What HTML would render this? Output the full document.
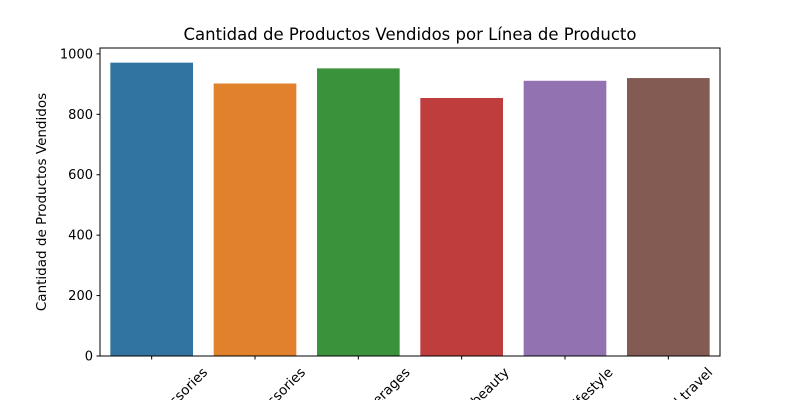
<!DOCTYPE html>
<html><head><meta charset="utf-8"><style>
html,body{margin:0;background:#fff;width:800px;height:400px;overflow:hidden}
svg{display:block;font-family:"DejaVu Sans","Liberation Sans",sans-serif;overflow:hidden}
</style></head><body>
<svg id="c" width="800" height="400" viewBox="0 0 800 400">
<rect width="800" height="400" fill="#fff"/>
<text x="410" y="40" text-anchor="middle" font-size="16.5" fill="#000">Cantidad de Productos Vendidos por Línea de Producto</text>
<g id="bars"></g><g id="yaxis"></g><g id="xaxis"></g>
<rect x="100" y="48" width="620" height="308" fill="none" stroke="#000" stroke-width="1"/>
<text transform="translate(46,202) rotate(-90)" text-anchor="middle" font-size="13.5">Cantidad de Productos Vendidos</text>
</svg>
<script>
const categories=["Electronic accessories","Fashion accessories","Food and beverages","Health and beauty","Home and lifestyle","Sports and travel"];
const values=[971,902,952,854,911,920];
const colors=["#3274a1","#e1812c","#3a923a","#c03d3e","#9372b2","#845b53"];
const yTicks=[0,200,400,600,800,1000];
const NS="http://www.w3.org/2000/svg";
const L=100,R=720,T=48,B=356,YMAX=1019.5;
const y=v=>B-(v/YMAX)*(B-T);
const slot=(R-L)/categories.length;
const xc=i=>L+slot*(i+0.5);
const bars=document.getElementById('bars'),ya=document.getElementById('yaxis'),xa=document.getElementById('xaxis');
function mk(t,a){const e=document.createElementNS(NS,t);for(const k in a)e.setAttribute(k,a[k]);return e;}
values.forEach((v,i)=>{
 const r=mk('rect',{x:xc(i)-slot*0.4,y:y(v),width:slot*0.8,height:B-y(v),fill:colors[i]});
 
 
 bars.appendChild(r);
});
yTicks.forEach(t=>{
 const l=mk('line',{x1:L-3.5,x2:L,y1:y(t),y2:y(t),stroke:'#000'});
 
 
 ya.appendChild(l);
 const tx=mk('text',{x:L-7,y:y(t)+4.5,'text-anchor':'end','font-size':'13'});
 tx.textContent=t;
 
 
 ya.appendChild(tx);
});
categories.forEach((c,i)=>{
 const x=xc(i);
 const l=mk('line',{x1:x,x2:x,y1:B,y2:B+3.5,stroke:'#000'});
 
 
 xa.appendChild(l);
 const tx=mk('text',{'text-anchor':'middle','dominant-baseline':'central','font-size':'13.5'});
 tx.textContent=c;
 
 
 xa.appendChild(tx);
 const len=tx.getComputedTextLength(),h=15;
 const cy=B+9+(len+h)*0.7071/2;
 tx.setAttribute('transform','translate('+(x+1)+','+cy+') rotate(-45)');
});
</script>
</body></html>
